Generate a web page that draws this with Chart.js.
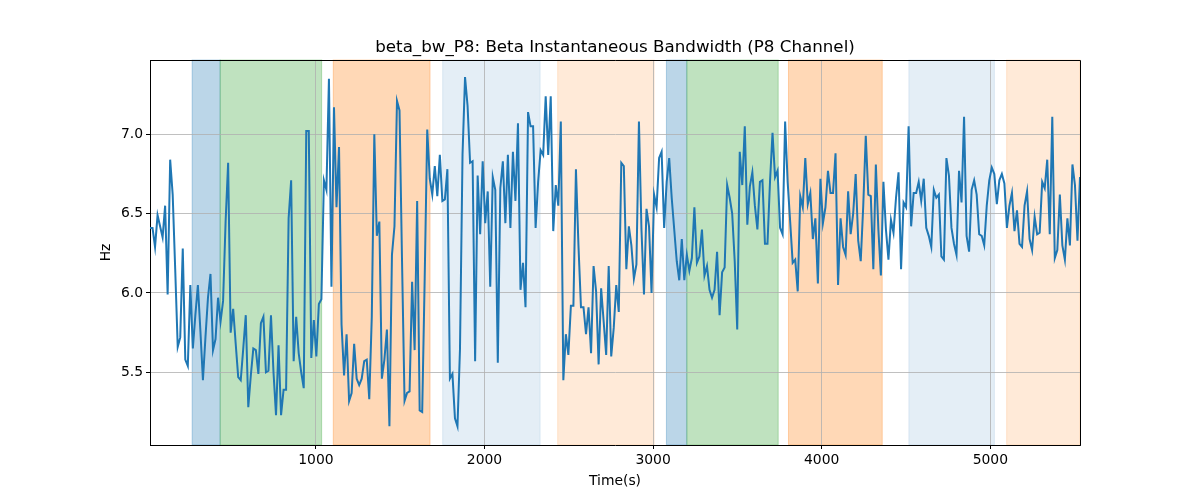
<!DOCTYPE html>
<html>
<head>
<meta charset="utf-8">
<script src="https://cdn.jsdelivr.net/npm/chart.js@4/dist/chart.umd.min.js"></script>
<style>
  html, body { margin: 0; padding: 0; background: #fff; }
  #wrap { width: 1200px; height: 500px; }
</style>
</head>
<body>
<div id="wrap"><canvas id="bwChart" width="1200" height="500"></canvas></div>
<script>
// time axis
const tStart = 16;
const tEnd = 5532;
const xTicks = [1000, 2000, 3000, 4000, 5000];
const yTicks = [5.5, 6.0, 6.5, 7.0];

// beta bandwidth (Hz)
const bandwidth = [
  6.41, 6.41, 6.29, 6.49, 6.42, 6.35, 6.55, 5.99, 6.84, 6.62, 6.15, 5.66, 5.72, 6.28, 5.58, 5.54,
  6.05, 5.65, 5.86, 6.05, 5.76, 5.45, 5.72, 5.97, 6.12, 5.64, 5.71, 5.97, 5.82, 5.95, 6.45, 6.82,
  5.75, 5.90, 5.68, 5.47, 5.45, 5.65, 5.86, 5.28, 5.48, 5.65, 5.64, 5.49, 5.81, 5.85, 5.50, 5.51,
  5.86, 5.50, 5.23, 5.67, 5.23, 5.39, 5.39, 6.47, 6.71, 5.57, 5.85, 5.62, 5.50, 5.40, 7.02, 7.02,
  5.59, 5.83, 5.60, 5.93, 5.96, 6.71, 6.65, 7.35, 6.04, 7.17, 6.54, 6.92, 5.80, 5.48, 5.74, 5.32,
  5.37, 5.68, 5.46, 5.42, 5.46, 5.57, 5.58, 5.33, 5.85, 7.00, 6.36, 6.45, 5.46, 5.58, 5.77, 5.16,
  6.24, 6.42, 7.21, 7.15, 6.20, 5.32, 5.37, 5.38, 6.07, 5.64, 6.58, 5.26, 5.25, 6.10, 7.03, 6.72,
  6.62, 6.80, 6.61, 6.87, 6.58, 6.59, 6.78, 5.46, 5.49, 5.21, 5.16,
  5.65, 6.87, 7.36, 7.18, 6.82, 6.83, 5.57, 6.74, 6.37, 6.83, 6.44, 6.64, 6.04, 6.73, 6.65, 5.56,
  6.66, 6.83, 6.44, 6.87, 6.41, 6.89, 6.58, 7.07, 6.02, 6.19, 5.91, 7.14, 7.05, 7.05, 6.41, 6.70,
  6.90, 6.87, 7.24, 6.87, 7.24, 6.39, 6.68, 6.55, 7.08, 5.45, 5.74, 5.61, 5.92, 5.92, 6.78, 6.30,
  5.91, 5.91, 5.74, 5.91, 5.62, 6.17, 6.01, 5.55, 6.03, 5.82, 5.61, 6.17, 5.60,
  5.78, 6.05, 5.88, 6.82, 6.80, 6.15, 6.42, 6.30, 6.09, 6.18, 7.08, 6.40, 5.99, 6.53, 6.42, 6.00,
  6.62, 6.54, 6.85, 6.89, 6.41, 6.70, 6.85, 6.60, 6.40, 6.20, 6.08, 6.34, 6.08, 6.24, 6.14, 6.22,
  6.54, 6.19, 6.23, 6.40, 6.11, 6.17, 6.02, 5.97, 6.02, 6.26, 5.86, 6.13, 6.16, 6.68, 6.60, 6.50,
  6.20, 5.77, 6.89, 6.68, 7.05, 6.43, 6.67, 6.76, 6.55, 6.40, 6.70, 6.71, 6.31,
  6.31, 6.70, 7.01, 6.73, 6.77, 6.41, 6.37, 7.08, 6.70, 6.45, 6.19, 6.21, 6.01, 6.61, 6.54, 6.85,
  6.56, 6.63, 6.34, 6.47, 6.06, 6.72, 6.44, 6.54, 6.77, 6.63, 6.63, 6.88, 6.05, 6.47, 6.29, 6.24,
  6.64, 6.37, 6.50, 6.75, 6.33, 6.20, 6.55, 6.99, 6.62, 6.61, 6.15, 6.81, 6.40, 6.11, 6.70, 6.40,
  6.21, 6.46, 6.38, 6.60, 6.76, 6.15, 6.57, 6.54, 7.05, 6.42, 6.63, 6.63,
  6.70, 6.58, 6.72, 6.41, 6.36, 6.29, 6.65, 6.60, 6.62, 6.23, 6.21, 6.85, 6.74, 6.41, 6.31, 6.24,
  6.77, 6.57, 7.11, 6.36, 6.26, 6.65, 6.71, 6.62, 6.37, 6.36, 6.30, 6.55, 6.71, 6.79, 6.75, 6.56,
  6.71, 6.75, 6.69, 6.41, 6.55, 6.63, 6.39, 6.52, 6.31, 6.29, 6.55, 6.64, 6.34, 6.27, 6.48, 6.37,
  6.38, 6.70, 6.66, 6.84, 6.37, 7.11, 6.22, 6.27, 6.62, 6.30, 6.21, 6.47, 6.30, 6.81, 6.68, 6.33,
  6.73
];

// shaded state spans (seconds)
const bandStarts = [266, 432, 1103, 1752, 2434, 3079, 3200, 3803, 4517, 5097];
const bandEnds   = [432, 1034, 1677, 2330, 3006, 3200, 3742, 4359, 5024, 5532];
const bandColors = [
  'rgba(31,119,180,0.3)', 'rgba(44,160,44,0.3)', 'rgba(255,127,14,0.3)',
  'rgba(31,119,180,0.12)', 'rgba(255,127,14,0.16)',
  'rgba(31,119,180,0.3)', 'rgba(44,160,44,0.3)', 'rgba(255,127,14,0.3)',
  'rgba(31,119,180,0.12)', 'rgba(255,127,14,0.16)'
];

const dt = (tEnd - tStart) / (bandwidth.length - 1);
const points = bandwidth.map((v, i) => ({ x: tStart + i * dt, y: v }));

const FONT = '"DejaVu Sans", sans-serif';

const decorPlugin = {
    id: 'decor',
    beforeDraw(chart) {
        const { ctx, chartArea: a, scales: { x } } = chart;
        ctx.save();
        ctx.lineWidth = 1;
        bandStarts.forEach((s, i) => {
            const x0 = Math.max(x.getPixelForValue(s), a.left);
            const x1 = Math.min(x.getPixelForValue(bandEnds[i]), a.right);
            ctx.fillStyle = bandColors[i];
            ctx.fillRect(x0, a.top, x1 - x0, a.bottom - a.top);
            ctx.strokeStyle = bandColors[i];
            ctx.strokeRect(x0, a.top, x1 - x0, a.bottom - a.top);
        });
        ctx.restore();
    },
    afterDraw(chart) {
        const { ctx, chartArea: a } = chart;
        ctx.save();
        // remaining spines
        ctx.strokeStyle = '#000';
        ctx.lineWidth = 1;
        ctx.beginPath();
        ctx.moveTo(a.left, a.top + 0.5);
        ctx.lineTo(a.right + 0.5, a.top + 0.5);
        ctx.lineTo(a.right + 0.5, a.bottom);
        ctx.stroke();

        ctx.fillStyle = '#000';
        ctx.textAlign = 'center';
        ctx.textBaseline = 'alphabetic';
        ctx.font = '16.7px ' + FONT;
        ctx.fillText('beta_bw_P8: Beta Instantaneous Bandwidth (P8 Channel)', (a.left + a.right) / 2, 52);

        ctx.font = '13.9px ' + FONT;
        ctx.textBaseline = 'middle';
        ctx.fillText('Time(s)', (a.left + a.right) / 2, 481);

        ctx.translate(106, (a.top + a.bottom) / 2);
        ctx.rotate(-Math.PI / 2);
        ctx.fillText('Hz', 0, 0);
        ctx.restore();
    }
};

const ctx = document.getElementById('bwChart').getContext('2d');

const bwChart = new Chart(ctx, {
    type: 'line',
    data: {
        datasets: [{
            data: points,
            borderColor: '#1f77b4',
            borderWidth: 2,
            pointRadius: 0,
            tension: 0,
            fill: false
        }]
    },
    options: {
        responsive: false,
        animation: false,
        events: [],
        layout: { padding: { top: 60, right: 120, left: 0, bottom: 0 } },
        plugins: {
            legend: { display: false },
            title: { display: false },
            tooltip: { enabled: false }
        },
        scales: {
            x: {
                type: 'linear',
                min: tStart,
                max: tEnd,
                afterFit: s => { s.height = 55; },
                afterBuildTicks: s => { s.ticks = xTicks.map(v => ({ value: v })); },
                grid: { color: '#b0b0b0', lineWidth: 0.8, tickColor: '#000', tickLength: 4, tickWidth: 1 },
                border: { color: '#000', width: 1 },
                ticks: {
                    color: '#000',
                    font: { family: FONT, size: 13.9 },
                    padding: 3,
                    maxRotation: 0,
                    callback: v => String(v)
                }
            },
            y: {
                min: 5.042,
                max: 7.468,
                afterFit: s => { s.width = 150; },
                afterBuildTicks: s => { s.ticks = yTicks.map(v => ({ value: v })); },
                grid: { color: '#b0b0b0', lineWidth: 0.8, tickColor: '#000', tickLength: 4, tickWidth: 1 },
                border: { color: '#000', width: 1 },
                ticks: {
                    color: '#000',
                    font: { family: FONT, size: 13.9 },
                    padding: 3,
                    callback: v => v.toFixed(1)
                }
            }
        }
    },
    plugins: [decorPlugin]
});
</script>
</body>
</html>
